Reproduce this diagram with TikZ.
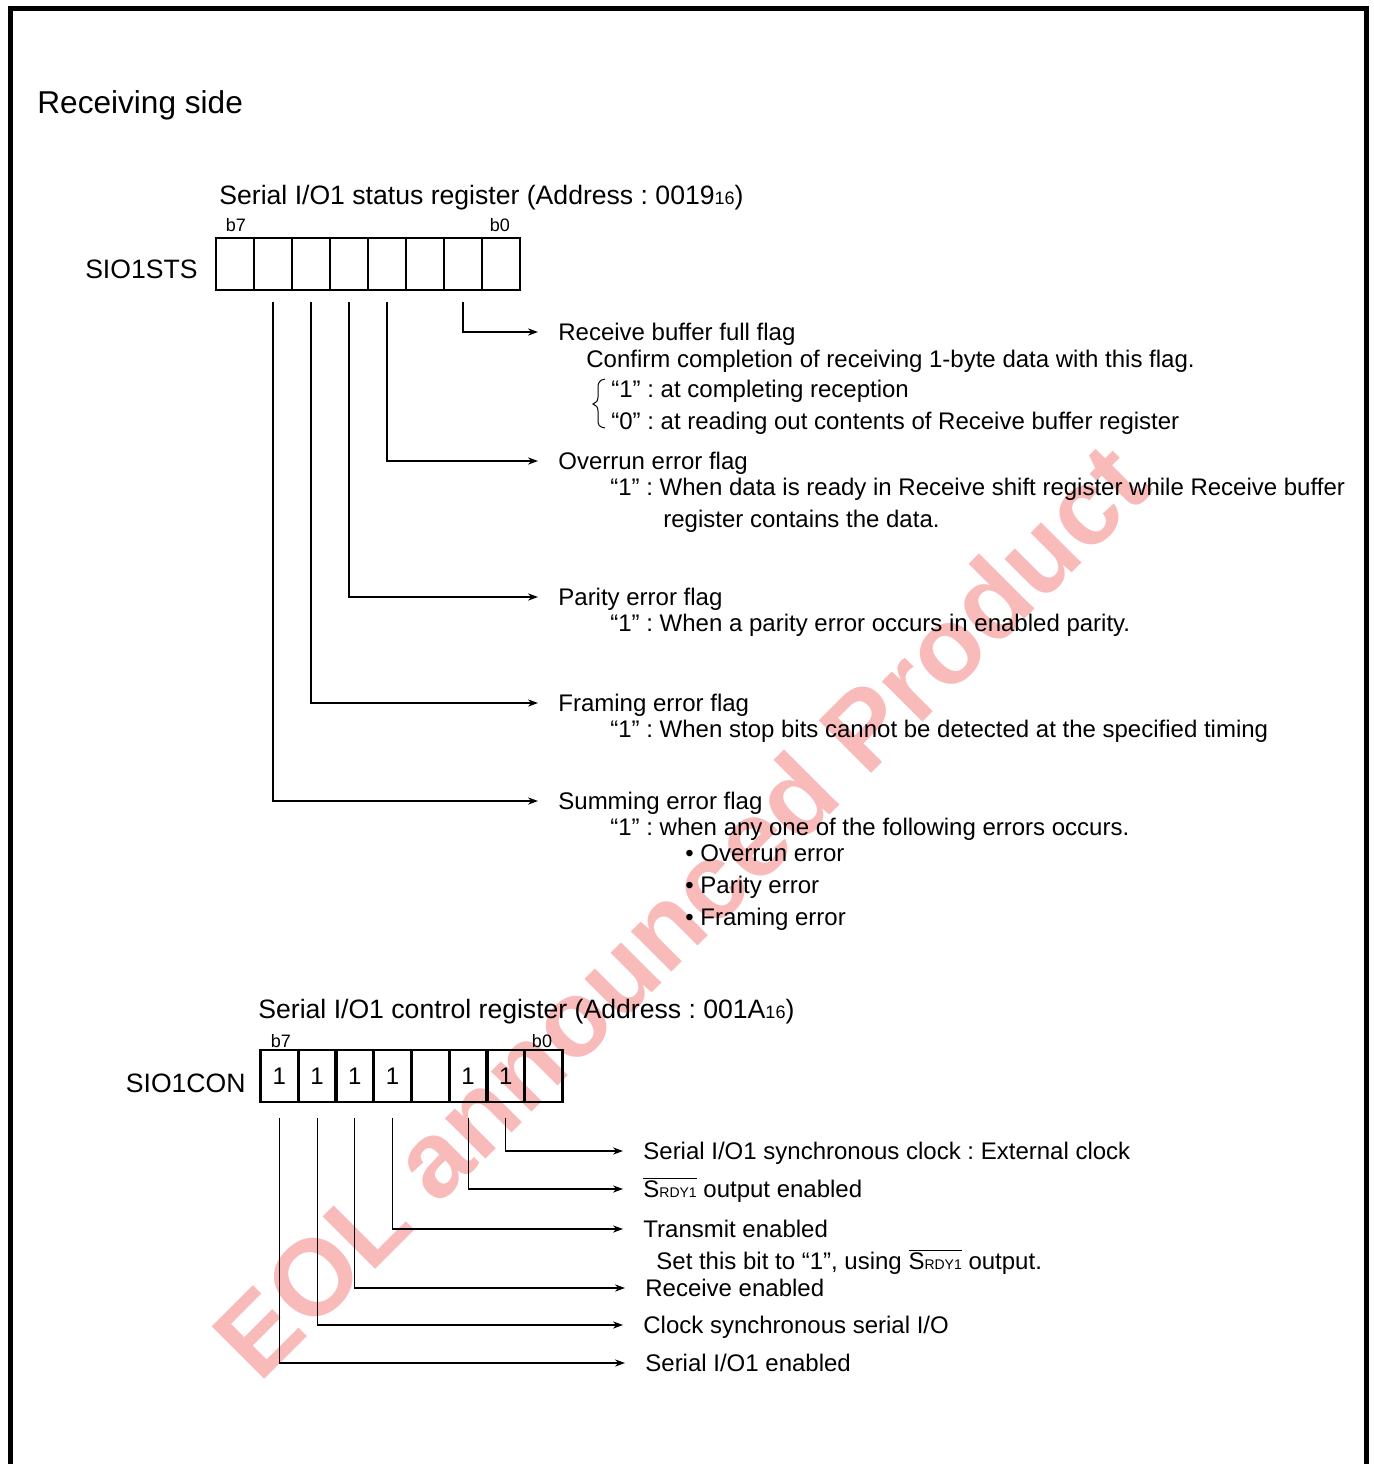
\documentclass[tikz,border=0pt]{standalone}
\usepackage{fontspec}
\setmainfont{Liberation Sans}
\usetikzlibrary{arrows.meta,positioning}
\definecolor{WaterPink}{RGB}{249,186,186}
\newcommand{\srdy}{$\overline{\mbox{S\scriptsize RDY1}}$}
\frenchspacing

\begin{document}
\begin{tikzpicture}[x=0.5pt,y=-0.5pt,
  cell/.style={draw,line width=1.4pt,minimum width=19pt,minimum height=26pt,inner sep=0pt,font=\fontsize{12}{14}\selectfont},
  desc/.style={anchor=west,inner sep=0pt,text height=8.6pt,text depth=0pt,font=\fontsize{12}{14}\selectfont},
  regname/.style={anchor=east,inner sep=0pt,font=\fontsize{13.3}{15}\selectfont},
  bitno/.style={inner sep=0pt,font=\fontsize{9}{10}\selectfont},
  lead/.style={line width=0.6pt,-{Stealth[length=5pt,width=3.6pt]},shorten >=10pt}]
  \useasboundingbox (0,0) rectangle (1374,1464);
  \node[rotate=45,text=WaterPink,font=\fontsize{54}{62}\selectfont\bfseries] (wm) at (680,910) {EOL announced Product};
  \draw[line width=2.8pt] (10.5,1470) -- (10.5,8.5) -- (1366.5,8.5) -- (1366.5,1470);
  \node[anchor=west,inner sep=0pt,font=\fontsize{15.8}{18}\selectfont] (side) at (37,105) {Receiving side};

  \node[anchor=west,inner sep=0pt,font=\fontsize{13.3}{15}\selectfont] (stshead) at (219,198) {Serial I/O1 status register (Address : 0019{\fontsize{9}{10}\selectfont 16})};
  \foreach \b in {0,...,7}
    \node[cell] (s\b) at (501-38*\b,264) {};
  \node[bitno] (sb7) at (236,225) {b7};
  \node[bitno] (sb0) at (500,225) {b0};
  \node[regname] (sts) at (198,269) {SIO1STS};

  \node[desc] (rbf) at (558,332) {Receive buffer full flag};
  \node[desc] (rbfa) at (586,359) {Confirm completion of receiving 1-byte data with this flag.};
  \node[desc] (rbf1) at (611,389) {“1” : at completing reception};
  \node[desc] (rbf0) at (611,421) {“0” : at reading out contents of Receive buffer register};
  \draw[line width=0.5pt] (605,379) .. controls (599,380) and (598,383) .. (598,388) -- (598,397)
    .. controls (598,401) and (596,403) .. (593,404) .. controls (596,405) and (598,407) .. (598,411)
    -- (598,420) .. controls (598,425) and (599,427) .. (605,428);
  \node[desc] (ovr) at (558,461) {Overrun error flag};
  \node[desc] (ovra) at (610,487) {“1” : When data is ready in Receive shift register while Receive buffer};
  \node[desc] (ovrb) at (663,519) {register contains the data.};
  \node[desc] (par) at (558,597) {Parity error flag};
  \node[desc] (para) at (610,623) {“1” : When a parity error occurs in enabled parity.};
  \node[desc] (frm) at (558,703) {Framing error flag};
  \node[desc] (frma) at (610,729) {“1” : When stop bits cannot be detected at the specified timing};
  \node[desc] (sum) at (558,801) {Summing error flag};
  \node[desc] (suma) at (610,827) {“1” : when any one of the following errors occurs.};
  \node[desc] (sumb) at (685,853) {• Overrun error};
  \node[desc] (sumc) at (685,885) {• Parity error};
  \node[desc] (sumd) at (685,917) {• Framing error};

  \draw[lead] ([yshift=-5.5pt]s1.south) |- (rbf.west);
  \draw[lead] ([yshift=-5.5pt]s3.south) |- (ovr.west);
  \draw[lead] ([yshift=-5.5pt]s4.south) |- (par.west);
  \draw[lead] ([yshift=-5.5pt]s5.south) |- (frm.west);
  \draw[lead] ([yshift=-5.5pt]s6.south) |- (sum.west);

  \node[anchor=west,inner sep=0pt,font=\fontsize{13.3}{15}\selectfont] (conhead) at (258,1012) {Serial I/O1 control register (Address : 001A{\fontsize{9}{10}\selectfont 16})};
  \foreach \b/\v in {7/1,6/1,5/1,4/1,3/{},2/1,1/1,0/{}}
    \node[cell] (c\b) at (543.6-37.75*\b,1076) {\v};
  \node[bitno] (cb7) at (281,1041) {b7};
  \node[bitno] (cb0) at (542,1041) {b0};
  \node[regname] (con) at (246,1083) {SIO1CON};

  \node[desc] (sck) at (643,1151) {Serial I/O1 synchronous clock : External clock};
  \node[desc] (rdy) at (643,1189) {\srdy{} output enabled};
  \node[desc] (tx) at (643,1229) {Transmit enabled};
  \node[desc] (txa) at (656,1261) {Set this bit to “1”, using \srdy{} output.};
  \node[desc] (rx) at (645,1288) {Receive enabled};
  \node[desc] (csy) at (643,1325) {Clock synchronous serial I/O};
  \node[desc] (en) at (645,1363) {Serial I/O1 enabled};

  \draw[lead] ([yshift=-7.5pt]c1.south) |- (sck.west);
  \draw[lead] ([yshift=-7.5pt]c2.south) |- (rdy.west);
  \draw[lead] ([yshift=-7.5pt]c4.south) |- (tx.west);
  \draw[lead] ([yshift=-7.5pt]c5.south) |- (rx.west);
  \draw[lead] ([yshift=-7.5pt]c6.south) |- (csy.west);
  \draw[lead] ([yshift=-7.5pt]c7.south) |- (en.west);
\end{tikzpicture}
\end{document}
